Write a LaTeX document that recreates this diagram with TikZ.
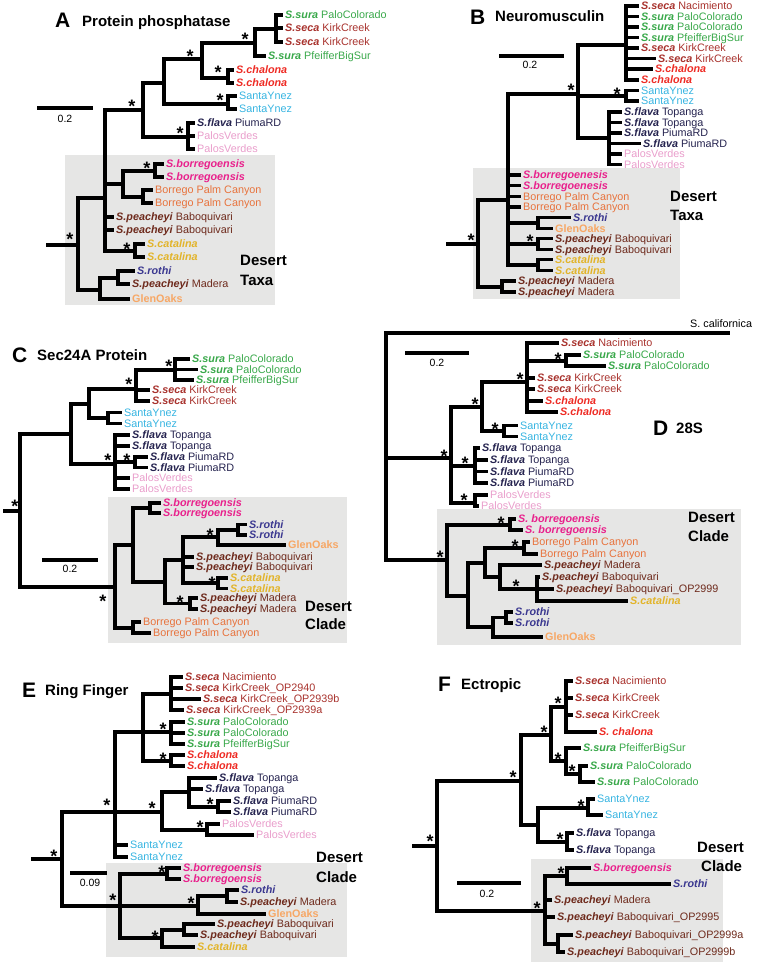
\documentclass[tikz,border=0pt]{standalone}
\usepackage{fontspec}
\setmainfont{Liberation Sans}
\definecolor{csura}{HTML}{39A84A}
\definecolor{cseca}{HTML}{A8322D}
\definecolor{cchal}{HTML}{EE2B24}
\definecolor{cynez}{HTML}{36B4E1}
\definecolor{cflava}{HTML}{25234F}
\definecolor{cpalos}{HTML}{E99DCB}
\definecolor{cborr}{HTML}{E9218C}
\definecolor{cbpc}{HTML}{E8733D}
\definecolor{cpeach}{HTML}{6E2A1C}
\definecolor{ccat}{HTML}{E2B42A}
\definecolor{croth}{HTML}{3B3890}
\definecolor{cglen}{HTML}{F7A765}
\definecolor{boxc}{HTML}{E6E6E5}
\newcommand\SP[1]{\textbf{\textit{#1}}}
\newcommand\HB[3]{\draw[hb] (#1,#3) -- (#2,#3);}
\newcommand\VB[3]{\draw[vb] (#1,#2) -- (#1,#3);}
\newcommand\AK[2]{\node[ak] at (#1,#2) {*};}
\newcommand\LF[5]{\draw[hb] (#1,#2) -- (#3,#2); \node[lbl,text=#4] at (#3+2,#2) {#5};}
\tikzset{
 hb/.style={line width=3.1pt, line cap=butt},
 vb/.style={line width=3.1pt, line cap=rect},
 lbl/.style={anchor=west, inner sep=0pt, font=\fontsize{10.8}{12}\selectfont, text height=7.8pt, text depth=0pt},
 ak/.style={inner sep=0pt, font=\fontsize{18}{20}\selectfont\bfseries, yshift=-3.9pt},
 big/.style={anchor=west, inner sep=0pt, font=\fontsize{21}{24}\selectfont\bfseries, text height=15pt, text depth=0pt},
 ttl/.style={anchor=west, inner sep=0pt, font=\fontsize{15}{18}\selectfont\bfseries, text height=10.8pt, text depth=0pt},
 sbl/.style={inner sep=0pt, font=\fontsize{10.5}{12}\selectfont, text height=7.5pt, text depth=0pt},
}
\begin{document}
\begin{tikzpicture}[x=1pt,y=-1pt]
\useasboundingbox (0,0) rectangle (756,968);
% ---------- shaded boxes
\fill[boxc] (65,155) rectangle (275,305);
\fill[boxc] (473,168) rectangle (680,299);
\fill[boxc] (108,497) rectangle (347,643);
\fill[boxc] (437,509) rectangle (741,645);
\fill[boxc] (106,863) rectangle (347,957);
\fill[boxc] (531,859) rectangle (723,962);

% ================= A
\node[big] at (55,20) {A};
\node[ttl] at (82,21) {Protein phosphatase};
\draw[hb] (37,108) -- (93,108); \node[sbl] at (65,119) {0.2};
\node[ttl] at (240,260) {Desert}; \node[ttl] at (240,280) {Taxa};
\HB{46}{78}{245}\AK{70}{235}\VB{78}{198}{290}
\HB{78}{105}{198}\VB{105}{110}{251}
\HB{105}{143}{110}\AK{132}{102}\VB{143}{83}{137}
\HB{143}{164}{83}\VB{164}{59}{104}
\HB{164}{202}{59}\AK{190}{52}\VB{202}{43}{78}
\HB{202}{255}{43}\AK{245}{35}\VB{255}{29}{56}
\HB{255}{276}{29}\VB{276}{15}{42}
\LF{276}{15}{283}{csura}{\SP{S.sura} PaloColorado}
\LF{276}{28}{283}{cseca}{\SP{S.seca} KirkCreek}
\LF{276}{42}{283}{cseca}{\SP{S.seca} KirkCreek}
\LF{255}{56}{266}{csura}{\SP{S.sura} PfeifferBigSur}
\HB{202}{228}{78}\AK{218}{68}\VB{228}{70}{83}
\LF{228}{70}{234}{cchal}{\SP{S.chalona}}
\LF{228}{83}{234}{cchal}{\SP{S.chalona}}
\HB{164}{228}{104}\AK{220}{96}\VB{228}{96}{109}
\LF{228}{96}{237}{cynez}{SantaYnez}
\LF{228}{109}{237}{cynez}{SantaYnez}
\HB{143}{188}{137}\AK{180}{129}\VB{188}{123}{149}
\LF{188}{123}{195}{cflava}{\SP{S.flava} PiumaRD}
\LF{188}{136}{195}{cpalos}{PalosVerdes}
\LF{188}{149}{195}{cpalos}{PalosVerdes}
\HB{105}{123}{184}\VB{123}{171}{197}
\HB{123}{155}{171}\AK{147}{164}\VB{155}{164}{177}
\LF{155}{164}{164}{cborr}{\SP{S.borregoensis}}
\LF{155}{177}{164}{cborr}{\SP{S.borregoensis}}
\HB{123}{143}{197}\VB{143}{190}{203}
\LF{143}{190}{153}{cbpc}{Borrego Palm Canyon}
\LF{143}{203}{153}{cbpc}{Borrego Palm Canyon}
\LF{105}{217}{114}{cpeach}{\SP{S.peacheyi} Baboquivari}
\LF{105}{230}{114}{cpeach}{\SP{S.peacheyi} Baboquivari}
\HB{105}{135}{251}\AK{127}{245}\VB{135}{244}{257}
\LF{135}{244}{145}{ccat}{\SP{S.catalina}}
\LF{135}{257}{145}{ccat}{\SP{S.catalina}}
\HB{78}{100}{290}\VB{100}{278}{299}
\HB{100}{118}{278}\VB{118}{271}{284}
\LF{118}{271}{135}{croth}{\SP{S.rothi}}
\LF{118}{284}{130}{cpeach}{\SP{S.peacheyi} Madera}
\LF{100}{299}{130}{cglen}{\textbf{GlenOaks}}

% ================= B
\node[big] at (470,17) {B};
\node[ttl] at (495,16) {Neuromusculin};
\draw[hb] (499,56) -- (564,56); \node[sbl] at (530,65) {0.2};
\node[ttl] at (670,196) {Desert}; \node[ttl] at (670,215) {Taxa};
\HB{446}{478}{244}\AK{471}{236}\VB{478}{200}{287}
\HB{478}{508}{200}\VB{508}{94}{265}
\HB{508}{578}{94}\AK{571}{86}\VB{578}{45}{138}
\HB{578}{626}{45}\VB{626}{6}{80}
\LF{626}{6}{639}{cseca}{\SP{S.seca} Nacimiento}
\LF{626}{16.5}{639}{csura}{\SP{S.sura} PaloColorado}
\LF{626}{27}{639}{csura}{\SP{S.sura} PaloColorado}
\LF{626}{37.5}{639}{csura}{\SP{S.sura} PfeifferBigSur}
\LF{626}{48}{639}{cseca}{\SP{S.seca} KirkCreek}
\LF{626}{58.5}{656}{cseca}{\SP{S.seca} KirkCreek}
\LF{626}{69}{653}{cchal}{\SP{S.chalona}}
\LF{626}{80}{639}{cchal}{\SP{S.chalona}}
\HB{578}{626}{96}\AK{617}{90}\VB{626}{90.5}{101}
\LF{626}{90.5}{639}{cynez}{SantaYnez}
\LF{626}{101}{639}{cynez}{SantaYnez}
\HB{578}{609}{138}\VB{609}{112}{164.5}
\LF{609}{112}{622}{cflava}{\SP{S.flava} Topanga}
\LF{609}{122.5}{622}{cflava}{\SP{S.flava} Topanga}
\LF{609}{133}{622}{cflava}{\SP{S.flava} PiumaRD}
\LF{609}{143.5}{641}{cflava}{\SP{S.flava} PiumaRD}
\LF{609}{154}{622}{cpalos}{PalosVerdes}
\LF{609}{164.5}{622}{cpalos}{PalosVerdes}
\LF{508}{175}{521}{cborr}{\SP{S.borregoenesis}}
\LF{508}{185.5}{521}{cborr}{\SP{S.borregoenesis}}
\LF{508}{196.5}{521}{cbpc}{Borrego Palm Canyon}
\LF{508}{207}{521}{cbpc}{Borrego Palm Canyon}
\HB{508}{538}{223}\VB{538}{217.5}{228.5}
\LF{538}{217.5}{571}{croth}{\SP{S.rothi}}
\LF{538}{228.5}{553}{cglen}{\textbf{GlenOaks}}
\HB{508}{538}{244}\AK{530}{237}\VB{538}{238.5}{249.5}
\LF{538}{238.5}{553}{cpeach}{\SP{S.peacheyi} Baboquivari}
\LF{538}{249.5}{553}{cpeach}{\SP{S.peacheyi} Baboquivari}
\HB{508}{538}{265}\VB{538}{259.5}{270.5}
\LF{538}{259.5}{553}{ccat}{\SP{S.catalina}}
\LF{538}{270.5}{553}{ccat}{\SP{S.catalina}}
\HB{478}{502}{287}\VB{502}{281}{292}
\LF{502}{281}{516}{cpeach}{\SP{S.peacheyi} Madera}
\LF{502}{292}{516}{cpeach}{\SP{S.peacheyi} Madera}

% ================= C
\node[big] at (12,355) {C};
\node[ttl] at (37,355) {Sec24A Protein};
\draw[hb] (42,560) -- (98,560); \node[sbl] at (70,569) {0.2};
\node[ttl] at (305,606) {Desert}; \node[ttl] at (305,624) {Clade};
\HB{3}{20}{511}\AK{15}{502}\VB{20}{434}{587}
\HB{20}{71}{434}\VB{71}{404}{464}
\HB{71}{89}{404}\VB{89}{389}{418}
\HB{89}{136}{389}\AK{129}{380}\VB{136}{370}{401}
\HB{136}{175}{370}\AK{169}{362}\VB{175}{359}{380}
\LF{175}{359}{190}{csura}{\SP{S.sura} PaloColorado}
\LF{175}{369.5}{198}{csura}{\SP{S.sura} PaloColorado}
\LF{175}{380}{194}{csura}{\SP{S.sura} PfeifferBigSur}
\LF{136}{390}{150}{cseca}{\SP{S.seca} KirkCreek}
\LF{136}{401}{150}{cseca}{\SP{S.seca} KirkCreek}
\HB{89}{108}{418}\VB{108}{412.5}{423.5}
\LF{108}{412.5}{122}{cynez}{SantaYnez}
\LF{108}{423.5}{122}{cynez}{SantaYnez}
\HB{71}{115}{464}\AK{108}{456}\VB{115}{435}{489}
\LF{115}{435}{130}{cflava}{\SP{S.flava} Topanga}
\LF{115}{446}{130}{cflava}{\SP{S.flava} Topanga}
\HB{115}{135}{462}\AK{127}{456}\VB{135}{457}{467.5}
\LF{135}{457}{148}{cflava}{\SP{S.flava} PiumaRD}
\LF{135}{467.5}{148}{cflava}{\SP{S.flava} PiumaRD}
\LF{115}{478}{130}{cpalos}{PalosVerdes}
\LF{115}{489}{130}{cpalos}{PalosVerdes}
\HB{20}{115}{587}\AK{103}{597}\VB{115}{545}{628}
\HB{115}{133}{545}\VB{133}{508}{582}
\HB{133}{150}{508}\VB{150}{503}{513}
\LF{150}{503}{161}{cborr}{\SP{S.borregoensis}}
\LF{150}{513}{161}{cborr}{\SP{S.borregoensis}}
\HB{133}{165}{582}\VB{165}{560}{603.5}
\HB{165}{183}{560}\VB{183}{537}{583}
\HB{183}{218}{537}\AK{210}{531}\VB{218}{530}{545}
\HB{218}{238}{530}\VB{238}{524.5}{535}
\LF{238}{524.5}{247}{croth}{\SP{S.rothi}}
\LF{238}{535}{247}{croth}{\SP{S.rothi}}
\LF{218}{545}{286}{cglen}{\textbf{GlenOaks}}
\LF{183}{557}{194}{cpeach}{\SP{S.peacheyi} Baboquivari}
\LF{183}{567}{194}{cpeach}{\SP{S.peacheyi} Baboquivari}
\HB{183}{218}{583}\AK{212}{579}\VB{218}{578}{588.5}
\LF{218}{578}{228}{ccat}{\SP{S.catalina}}
\LF{218}{588.5}{228}{ccat}{\SP{S.catalina}}
\HB{165}{190}{603.5}\AK{180}{598}\VB{190}{598}{609}
\LF{190}{598}{198}{cpeach}{\SP{S.peacheyi} Madera}
\LF{190}{609}{198}{cpeach}{\SP{S.peacheyi} Madera}
\HB{115}{133}{628}\VB{133}{622}{633}
\LF{133}{622}{141}{cbpc}{Borrego Palm Canyon}
\LF{133}{633}{151}{cbpc}{Borrego Palm Canyon}

% ================= D
\node[lbl] at (690,324) {S. californica};
\node[big] at (653,428) {D};
\node[ttl] at (676,428) {28S};
\draw[hb] (405,353) -- (469,353); \node[sbl] at (437,363) {0.2};
\node[ttl] at (688,517) {Desert}; \node[ttl] at (688,536) {Clade};
\HB{386}{730}{333}\VB{386}{333}{560}
\HB{386}{451}{458}\AK{444}{452}\VB{451}{407}{503}
\HB{451}{482}{407}\AK{475}{400}\VB{482}{382}{431}
\HB{482}{527}{382}\AK{520}{375}\VB{527}{343}{412}
\LF{527}{343}{559}{cseca}{\SP{S.seca} Nacimiento}
\HB{527}{566}{361}\AK{558}{355}\VB{566}{355}{366}
\LF{566}{355}{581}{csura}{\SP{S.sura} PaloColorado}
\LF{566}{366}{606}{csura}{\SP{S.sura} PaloColorado}
\LF{527}{378}{535}{cseca}{\SP{S.seca} KirkCreek}
\LF{527}{389}{535}{cseca}{\SP{S.seca} KirkCreek}
\LF{527}{401}{543}{cchal}{\SP{S.chalona}}
\LF{527}{412}{558}{cchal}{\SP{S.chalona}}
\HB{482}{504}{431}\AK{495}{425}\VB{504}{425.5}{436.5}
\LF{504}{425.5}{518}{cynez}{SantaYnez}
\LF{504}{436.5}{518}{cynez}{SantaYnez}
\HB{451}{475}{466}\AK{465}{459}\VB{475}{448}{483}
\LF{475}{448}{480}{cflava}{\SP{S.flava} Topanga}
\LF{475}{460}{488}{cflava}{\SP{S.flava} Topanga}
\LF{475}{471.5}{488}{cflava}{\SP{S.flava} PiumaRD}
\LF{475}{483}{488}{cflava}{\SP{S.flava} PiumaRD}
\HB{451}{475}{503}\AK{464}{496}\VB{475}{495}{506}
\LF{475}{495}{488}{cpalos}{PalosVerdes}
\LF{475}{506}{479}{cpalos}{PalosVerdes}
\HB{386}{447}{560}\AK{440}{553}\VB{447}{525}{596}
\HB{447}{510}{525}\AK{501}{519}\VB{510}{519}{530}
\LF{510}{519}{516}{cborr}{\SP{S. borregoensis}}
\LF{510}{530}{523}{cborr}{\SP{S. borregoensis}}
\HB{447}{468}{596}\VB{468}{563}{627}
\HB{468}{485}{563}\VB{485}{548}{577}
\HB{485}{524}{548}\AK{515}{542}\VB{524}{542}{554}
\LF{524}{542}{530}{cbpc}{Borrego Palm Canyon}
\LF{524}{554}{538}{cbpc}{Borrego Palm Canyon}
\HB{485}{500}{577}\VB{500}{565}{589}
\LF{500}{565}{542}{cpeach}{\SP{S.peacheyi} Madera}
\HB{500}{537}{589}\AK{516}{582}\VB{537}{577}{601}
\LF{537}{577}{540}{cpeach}{\SP{S.peacheyi} Baboquivari}
\LF{537}{589}{554}{cpeach}{\SP{S.peacheyi} Baboquivari\_OP2999}
\LF{537}{601}{628}{ccat}{\SP{S.catalina}}
\HB{468}{493}{627}\VB{493}{617.5}{637}
\HB{493}{506}{617.5}\VB{506}{612}{623}
\LF{506}{612}{513}{croth}{\SP{S.rothi}}
\LF{506}{623}{513}{croth}{\SP{S.rothi}}
\LF{493}{637}{543}{cglen}{\textbf{GlenOaks}}

% ================= E
\node[big] at (22,690) {E};
\node[ttl] at (45,690) {Ring Finger};
\draw[hb] (70,873) -- (107,873); \node[sbl] at (90,883) {0.09};
\node[ttl] at (316,857) {Desert}; \node[ttl] at (316,877) {Clade};
\HB{31}{62}{859}\AK{54}{852}\VB{62}{812}{906}
\HB{62}{115}{812}\AK{107}{801}\VB{115}{732}{857}
\HB{115}{143}{732}\VB{143}{694}{761}
\HB{143}{171}{694}\VB{171}{677}{710}
\LF{171}{677}{183}{cseca}{\SP{S.seca} Nacimiento}
\LF{171}{688}{183}{cseca}{\SP{S.seca} KirkCreek\_OP2940}
\LF{171}{699}{201}{cseca}{\SP{S.seca} KirkCreek\_OP2939b}
\LF{171}{710}{184}{cseca}{\SP{S.seca} KirkCreek\_OP2939a}
\HB{143}{171}{732}\AK{163}{725}\VB{171}{722}{744}
\LF{171}{722}{185}{csura}{\SP{S.sura} PaloColorado}
\LF{171}{733}{185}{csura}{\SP{S.sura} PaloColorado}
\LF{171}{744}{185}{csura}{\SP{S.sura} PfeifferBigSur}
\HB{143}{171}{761}\AK{163}{755}\VB{171}{755}{766}
\LF{171}{755}{185}{cchal}{\SP{S.chalona}}
\LF{171}{766}{185}{cchal}{\SP{S.chalona}}
\HB{115}{162}{812}\AK{152}{804}\VB{162}{792}{830}
\HB{162}{189}{792}\VB{189}{778}{807}
\LF{189}{778}{217}{cflava}{\SP{S.flava} Topanga}
\LF{189}{789}{203}{cflava}{\SP{S.flava} Topanga}
\HB{189}{218}{807}\AK{210}{800}\VB{218}{801}{812}
\LF{218}{801}{231}{cflava}{\SP{S.flava} PiumaRD}
\LF{218}{812}{231}{cflava}{\SP{S.flava} PiumaRD}
\HB{162}{207}{830}\AK{200}{823}\VB{207}{824}{835}
\LF{207}{824}{220}{cpalos}{PalosVerdes}
\LF{207}{835}{254}{cpalos}{PalosVerdes}
\LF{115}{845}{128}{cynez}{SantaYnez}
\LF{115}{857}{128}{cynez}{SantaYnez}
\HB{62}{120}{906}\AK{113}{896}\VB{120}{874}{938}
\HB{120}{167}{874}\AK{162}{868}\VB{167}{868}{879}
\LF{167}{868}{181}{cborr}{\SP{S.borregoensis}}
\LF{167}{879}{181}{cborr}{\SP{S.borregoensis}}
\HB{120}{198}{906}\AK{191}{899}\VB{198}{896}{914}
\HB{198}{227}{896}\VB{227}{890}{902}
\LF{227}{890}{239}{croth}{\SP{S.rothi}}
\LF{227}{902}{238}{cpeach}{\SP{S.peacheyi} Madera}
\LF{198}{914}{266}{cglen}{\textbf{GlenOaks}}
\HB{120}{162}{938}\AK{155}{933}\VB{162}{930}{947}
\HB{162}{184}{930}\VB{184}{924}{935}
\LF{184}{924}{215}{cpeach}{\SP{S.peacheyi} Baboquivari}
\LF{184}{935}{198}{cpeach}{\SP{S.peacheyi} Baboquivari}
\LF{162}{947}{195}{ccat}{\SP{S.catalina}}

% ================= F
\node[big] at (438,684) {F};
\node[ttl] at (461,684) {Ectropic};
\draw[hb] (457,883) -- (521,883); \node[sbl] at (487,894) {0.2};
\node[ttl] at (697,847) {Desert}; \node[ttl] at (701,866) {Clade};
\HB{412}{437}{846}\AK{430}{837}\VB{437}{781}{911}
\HB{437}{521}{781}\AK{513}{773}\VB{521}{735}{825}
\HB{521}{551}{735}\AK{544}{728}\VB{551}{707}{761}
\HB{551}{566}{707}\AK{558}{699}\VB{566}{681}{732}
\LF{566}{681}{573}{cseca}{\SP{S.seca} Nacimiento}
\LF{566}{698}{573}{cseca}{\SP{S.seca} KirkCreek}
\LF{566}{715}{573}{cseca}{\SP{S.seca} KirkCreek}
\LF{566}{732}{597}{cchal}{\SP{S. chalona}}
\HB{551}{566}{761}\AK{558}{755}\VB{566}{748}{774}
\LF{566}{748}{581}{csura}{\SP{S.sura} PfeifferBigSur}
\HB{566}{580}{774}\AK{572}{767}\VB{580}{766}{782}
\LF{580}{766}{588}{csura}{\SP{S.sura} PaloColorado}
\LF{580}{782}{595}{csura}{\SP{S.sura} PaloColorado}
\HB{521}{538}{825}\VB{538}{808}{842}
\HB{538}{588}{808}\AK{581}{802}\VB{588}{799}{815}
\LF{588}{799}{595}{cynez}{SantaYnez}
\LF{588}{815}{603}{cynez}{SantaYnez}
\HB{538}{567}{842}\AK{560}{835}\VB{567}{833}{850}
\LF{567}{833}{574}{cflava}{\SP{S.flava} Topanga}
\LF{567}{850}{574}{cflava}{\SP{S.flava} Topanga}
\HB{437}{545}{911}\AK{537}{904}\VB{545}{876}{944}
\HB{545}{567}{876}\AK{561}{869}\VB{567}{868}{884}
\LF{567}{868}{591}{cborr}{\SP{S.borregoensis}}
\LF{567}{884}{671}{croth}{\SP{S.rothi}}
\LF{545}{900}{552}{cpeach}{\SP{S.peacheyi} Madera}
\LF{545}{917}{555}{cpeach}{\SP{S.peacheyi} Baboquivari\_OP2995}
\HB{545}{558}{944}\VB{558}{935}{952}
\LF{558}{935}{573}{cpeach}{\SP{S.peacheyi} Baboquivari\_OP2999a}
\LF{558}{952}{565}{cpeach}{\SP{S.peacheyi} Baboquivari\_OP2999b}
\end{tikzpicture}
\end{document}
